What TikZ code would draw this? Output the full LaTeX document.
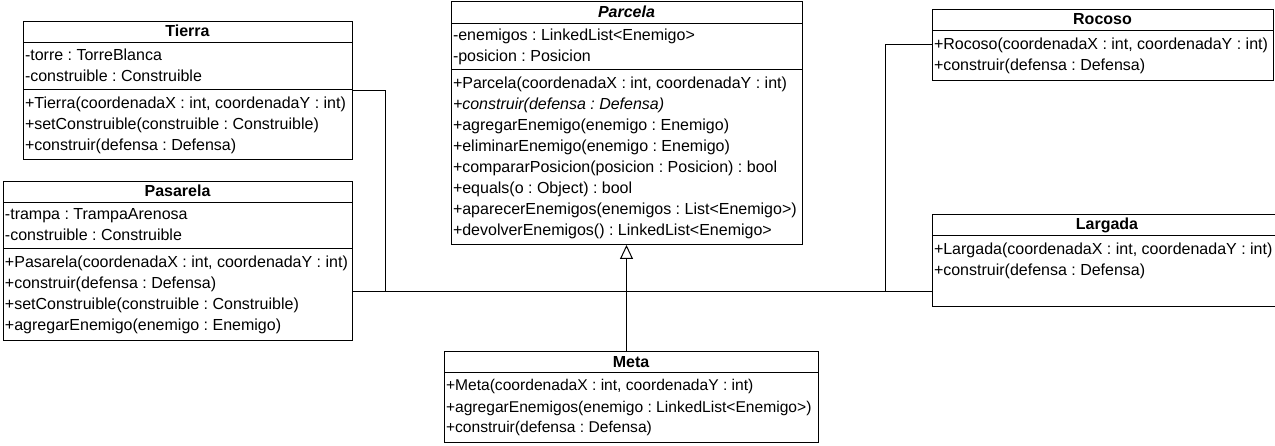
\documentclass[tikz,border=0pt]{standalone}
\usepackage{fontspec}
\setmainfont{Liberation Sans}
\usetikzlibrary{positioning,arrows.meta}

\begin{document}
\begin{tikzpicture}[x=1pt, y=-1pt, line width=1pt, classtitle/.style={draw, outer sep=0pt, inner xsep=2pt, inner ysep=0pt, align=center, minimum height=21pt, font=\fontsize{16}{21}\selectfont\frenchspacing\bfseries},
 classpart/.style={draw, outer sep=0pt, inner xsep=2pt, inner ysep=0pt, align=left, font=\fontsize{16}{21}\selectfont\frenchspacing},
 every node/.append style={execute at begin node={\spaceskip=0pt\xspaceskip=0pt\rightskip=0pt plus 2em minus 12pt\rule[-4pt]{0pt}{17pt}}, execute at end node={\rule[-4pt]{0pt}{17pt}}}, ]
                \useasboundingbox (0,0) rectangle (1275,446);

                \node [classtitle, text width=325pt, anchor=north west] (tierraT) at (23,22) {Tierra};
                \node [classpart, text width=325pt, minimum height=46.5pt] (tierraA) [below=0pt of tierraT] {-torre : TorreBlanca\\-construible : Construible};
                \node [classpart, text width=325pt, minimum height=70.5pt] (tierraM) [below=0pt of tierraA] {+Tierra(coordenadaX : int, coordenadaY : int)\\+setConstruible(construible : Construible)\\+construir(defensa : Defensa)};

                \node [classtitle, text width=345pt, anchor=north west] (pasarelaT) at (3,182) {Pasarela};
                \node [classpart, text width=345pt, minimum height=46pt] (pasarelaA) [below=0pt of pasarelaT] {-trampa : TrampaArenosa\\-construible : Construible};
                \node [classpart, text width=345pt, minimum height=92pt] (pasarelaM) [below=0pt of pasarelaA] {+Pasarela(coordenadaX : int, coordenadaY : int)\\+construir(defensa : Defensa)\\+setConstruible(construible : Construible)\\+agregarEnemigo(enemigo : Enemigo)};

                \node [classtitle, text width=347pt, minimum height=21.5pt, anchor=north west] (parcelaT) at (451,2) {\textit{Parcela}};
                \node [classpart, text width=347pt, minimum height=46pt] (parcelaA) [below=0pt of parcelaT] {-enemigos : LinkedList<Enemigo>\\-posicion : Posicion};
                \node [classpart, text width=347pt, minimum height=175.5pt] (parcelaM) [below=0pt of parcelaA] {+Parcela(coordenadaX : int, coordenadaY : int)\\\textit{+construir(defensa : Defensa)}\\+agregarEnemigo(enemigo : Enemigo)\\+eliminarEnemigo(enemigo : Enemigo)\\+compararPosicion(posicion : Posicion) : bool\\+equals(o : Object) : bool\\+aparecerEnemigos(enemigos : List<Enemigo>)\\+devolverEnemigos() : LinkedList<Enemigo>};

                \node [classtitle, text width=370pt, anchor=north west] (metaT) at (444,352) {Meta};
                \node [classpart, text width=370pt, minimum height=69pt, font=\fontsize{15.6}{21}\selectfont\frenchspacing] (metaM) [below=0pt of metaT] {+Meta(coordenadaX : int, coordenadaY : int)\\+agregarEnemigos(enemigo : LinkedList<Enemigo>)\\+construir(defensa : Defensa)};

                \node [classtitle, text width=337pt, anchor=north west] (rocosoT) at (932,10) {Rocoso};
                \node [classpart, text width=337pt, minimum height=50pt] (rocosoM) [below=0pt of rocosoT] {+Rocoso(coordenadaX : int, coordenadaY : int)\\+construir(defensa : Defensa)};

                \node [classtitle, text width=346pt, anchor=north west] (largadaT) at (932,215) {Largada};
                \node [classpart, text width=346pt, minimum height=71pt] (largadaM) [below=0pt of largadaT] {+Largada(coordenadaX : int, coordenadaY : int)\\+construir(defensa : Defensa)\\};

                \coordinate (busL) at (385,292);
                \coordinate (busR) at (885,292);

                \draw ([yshift=-1.5pt]tierraM.north east) -| (busL);
                \draw ([yshift=-14pt]rocosoM.north west) -| (busR);
                \draw (pasarelaM.east |- busL) -- (largadaM.west |- busR);
                \draw [-{Triangle[open, length=14pt, width=13pt]}] (parcelaM.south |- metaT.north) -- (parcelaM.south);
\end{tikzpicture}
\end{document}
